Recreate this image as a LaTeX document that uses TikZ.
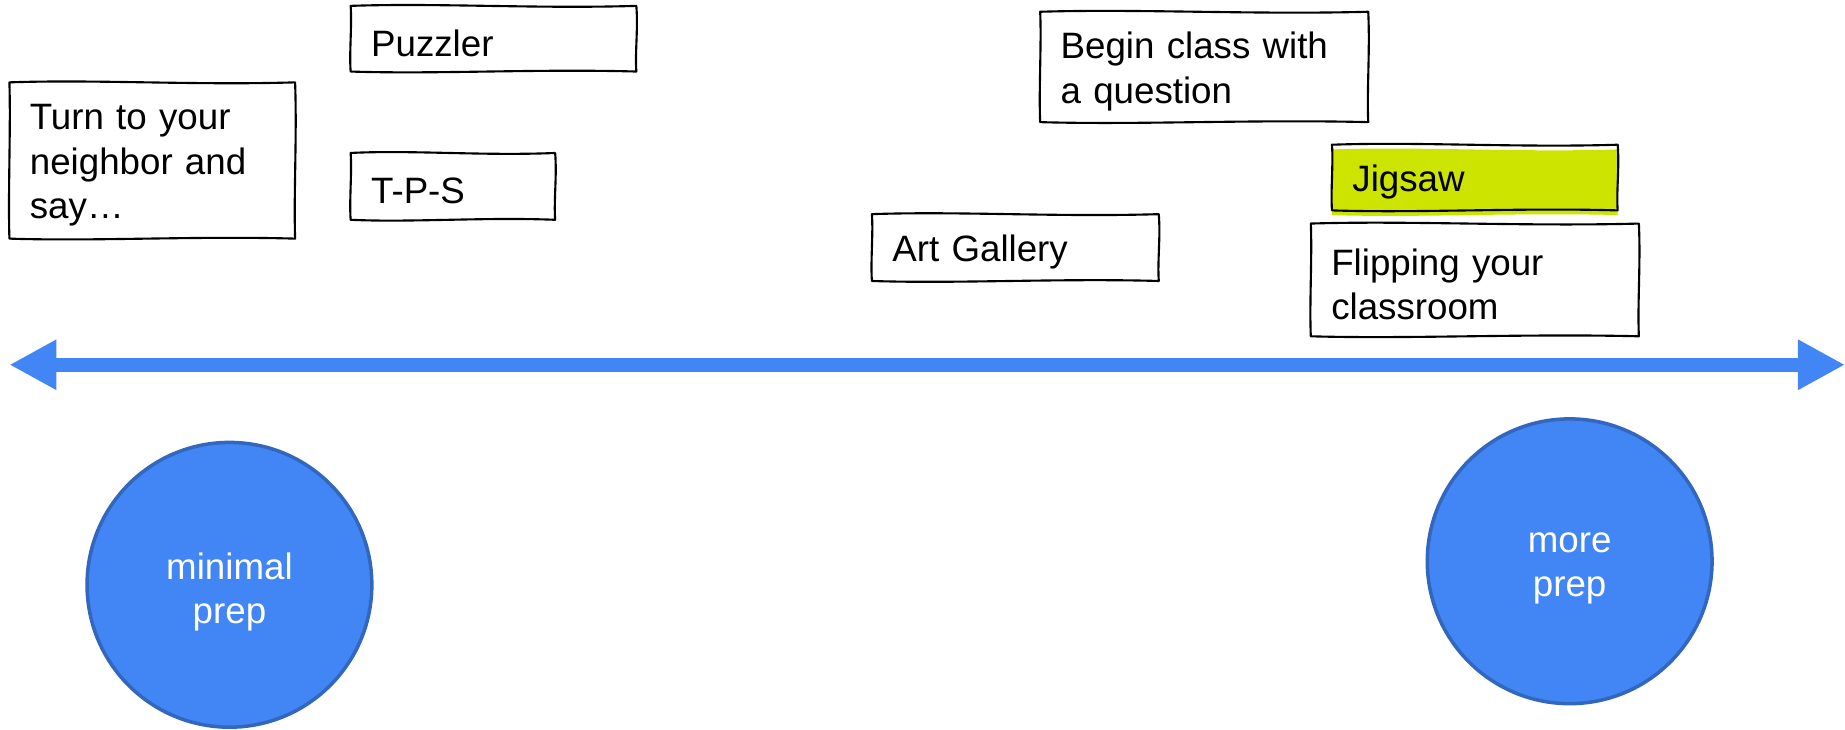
\documentclass[tikz,border=0pt]{standalone}
\usepackage{fontspec}
\setmainfont{Liberation Sans}
\usetikzlibrary{arrows.meta,calc,backgrounds}
\definecolor{gblue}{RGB}{66,133,244}
\definecolor{gblueborder}{RGB}{51,103,190}
\definecolor{jig}{RGB}{204,228,0}
\newcommand\sketchpath[1]{(#1.north west)
    .. controls ($(#1.north west)!0.3!(#1.north east)+(0,1.3pt)$) and ($(#1.north west)!0.65!(#1.north east)+(0,-1.3pt)$) .. (#1.north east)
    .. controls ($(#1.north east)!0.35!(#1.south east)+(0.8pt,0)$) and ($(#1.north east)!0.7!(#1.south east)+(-0.6pt,0)$) .. (#1.south east)
    .. controls ($(#1.south east)!0.35!(#1.south west)+(0,1.2pt)$) and ($(#1.south east)!0.7!(#1.south west)+(0,-1.2pt)$) .. (#1.south west)
    .. controls ($(#1.south west)!0.3!(#1.north west)+(-0.6pt,0)$) and ($(#1.south west)!0.7!(#1.north west)+(0.6pt,0)$) .. cycle}
\begin{document}
\begin{tikzpicture}[x=0.5pt,y=-0.5pt,
  card/.style={anchor=north west, inner xsep=8.5pt, inner ysep=0pt, align=left,
    font=\fontsize{15.6}{18.9}\selectfont},
  sketch/.style={line width=0.9pt, line join=round},
  prepcirc/.style={circle, fill=gblue, draw=gblueborder, line width=1.5pt,
    minimum size=121pt, inner sep=0pt},
  preptext/.style={text=white, align=center, yshift=-3pt, font=\fontsize{15.6}{18.6}\selectfont},
  axis/.style={gblue, line width=6pt, {Triangle[length=20pt,width=20pt]}-{Triangle[length=20pt,width=20pt]}}]
\useasboundingbox (0,0) rectangle (1568,620);

% text nodes sit 4 units below their boxes; the boxes are drawn shifted back up
\node[card, text width=104pt, minimum height=66pt] (turn) at (8,74) {Turn to your\\neighbor and\\say…};
\node[card, text width=104pt, minimum height=27.5pt] (puzzler) at (298,9) {Puzzler};
\node[card, text width=69.5pt, minimum height=28pt] (tps) at (298,134) {T-P-S};
\node[card, text width=122pt, minimum height=46.5pt] (begin) at (884,14) {Begin class with\\a question};
\node[card, text width=104pt, minimum height=27.5pt] (jigsaw) at (1132,127) {Jigsaw};
\node[card, text width=104.5pt, minimum height=28pt] (art) at (741,186) {Art Gallery};
\node[card, text width=122pt, minimum height=47.5pt] (flip) at (1114,194) {Flipping your\\classroom};

\begin{scope}[on background layer, transform canvas={yshift=2pt}]
  \fill[jig] \sketchpath{jigsaw};
\end{scope}
\begin{scope}[transform canvas={yshift=2pt}]
  \foreach \n in {turn,puzzler,tps,begin,jigsaw,art,flip}{\draw[sketch] \sketchpath{\n};}
\end{scope}

\coordinate (L) at (8,310);
\coordinate (R) at (1568,310);
\draw[axis] (L) -- (R);

\node[prepcirc, label={[preptext]center:minimal\\prep}] (minimal) at (195,497) {};
\node[prepcirc, label={[preptext]center:more\\prep}] (more) at (1334,477) {};
\end{tikzpicture}
\end{document}
